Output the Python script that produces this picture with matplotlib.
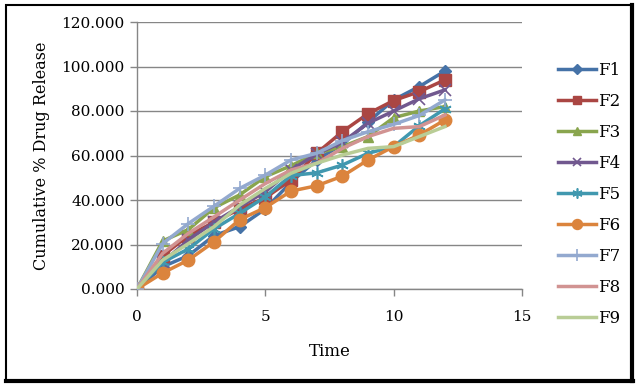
import matplotlib
matplotlib.use("Agg")
import matplotlib.pyplot as plt
from matplotlib.patches import Rectangle

time = [0, 1, 2, 3, 4, 5, 6, 7, 8, 9, 10, 11, 12]
F1 = [0, 10.0, 15.0, 24.0, 28.0, 36.0, 48.0, 58.0, 65.0, 75.0, 85.0, 91.0, 98.0]
F2 = [0, 15.0, 24.0, 30.0, 36.0, 41.0, 49.0, 61.0, 70.7, 78.8, 84.7, 88.7, 94.0]
F3 = [0, 21.6, 26.7, 36.5, 42.3, 50.5, 55.4, 61.0, 64.0, 68.5, 77.0, 80.0, 82.0]
F4 = [0, 12.0, 22.0, 30.0, 37.0, 43.7, 53.5, 60.7, 66.0, 74.5, 80.0, 85.5, 89.5]
F5 = [0, 12.0, 18.0, 27.0, 34.0, 41.4, 51.0, 52.2, 55.7, 61.0, 64.0, 73.4, 81.0]
F6 = [0, 7.2, 13.0, 21.2, 31.2, 36.6, 44.0, 46.4, 50.7, 58.0, 64.0, 69.2, 76.0]
F7 = [0, 20.4, 29.4, 37.2, 45.2, 51.2, 58.0, 61.0, 66.7, 70.7, 74.0, 78.0, 85.0]
F8 = [0, 16.0, 25.0, 32.4, 40.0, 47.4, 53.5, 56.5, 63.2, 68.5, 72.2, 73.0, 78.2]
F9 = [0, 13.0, 20.4, 28.0, 37.7, 45.2, 52.0, 56.5, 60.2, 63.2, 64.0, 68.5, 73.0]
series = {"F1": F1, "F2": F2, "F3": F3, "F4": F4, "F5": F5,
          "F6": F6, "F7": F7, "F8": F8, "F9": F9}

colors = ["#4572A7", "#AA4643", "#89A54E", "#71588F", "#4198AF",
          "#DB843D", "#93A9CF", "#D19392", "#B9CD96"]
markers = ["D", "s", "^", "x", (6, 2, 0), "o", "+", None, None]
msizes = [6, 8, 7, 8, 9, 9, 10, 0, 0]

plt.rcParams['font.family'] = ['DejaVu Serif']
fig = plt.figure(figsize=(6.4, 3.86), dpi=100)
ax = fig.add_axes([137/640, 1-289/386, (522-137)/640, (289-22)/386])

for (name, vals), c, m, ms in zip(series.items(), colors, markers, msizes):
    kw = dict(color=c, lw=2.5, label=name, zorder=3)
    if m is not None:
        kw.update(marker=m, markersize=ms, markerfacecolor=c, markeredgecolor=c)
        if m in ("x", "+") or isinstance(m, tuple):
            kw.update(markeredgewidth=1.2)
    ax.plot(time, vals, **kw)

ax.set_xlim(0, 15)
ax.set_ylim(0, 120)
ax.set_xticks([0, 5, 10, 15])
ax.set_yticks(range(0, 121, 20))
ax.set_yticklabels([f"{v:.3f}" for v in range(0, 121, 20)])
ax.grid(axis='y', color='#868686', lw=1)
ax.set_axisbelow(True)
for s in ['top', 'right']:
    ax.spines[s].set_visible(False)
for s in ['left', 'bottom']:
    ax.spines[s].set_color('#868686')
    ax.spines[s].set_linewidth(1)
ax.tick_params(axis='both', colors='#868686', labelcolor='black', labelsize=11,
               direction='out', length=5, width=1)
ax.tick_params(axis='x', pad=10)
ax.tick_params(axis='y', pad=4)
ax.set_xlabel("Time", fontsize=12, labelpad=14)
ax.set_ylabel("Cumulative % Drug Release", fontsize=11.5, labelpad=8)

leg = fig.legend(loc='upper left', bbox_to_anchor=(558/640, 1-62/386),
                 frameon=False, fontsize=12, handlelength=2.3, handletextpad=0.1,
                 labelspacing=0.84, borderaxespad=0, borderpad=0, markerscale=0.8)

# outer frame with heavier right/bottom edge
fig.patches.append(Rectangle((6/640, 5/386), 626/640, 376/386, transform=fig.transFigure,
                             fill=False, edgecolor='black', lw=1.5))
fig.add_artist(plt.Line2D([632/640, 632/640], [5/386, 381/386], color='black', lw=3,
                          transform=fig.transFigure))
fig.add_artist(plt.Line2D([6/640, 633/640], [5/386, 5/386], color='black', lw=3,
                          transform=fig.transFigure))

fig.savefig("out.png", dpi=100)
